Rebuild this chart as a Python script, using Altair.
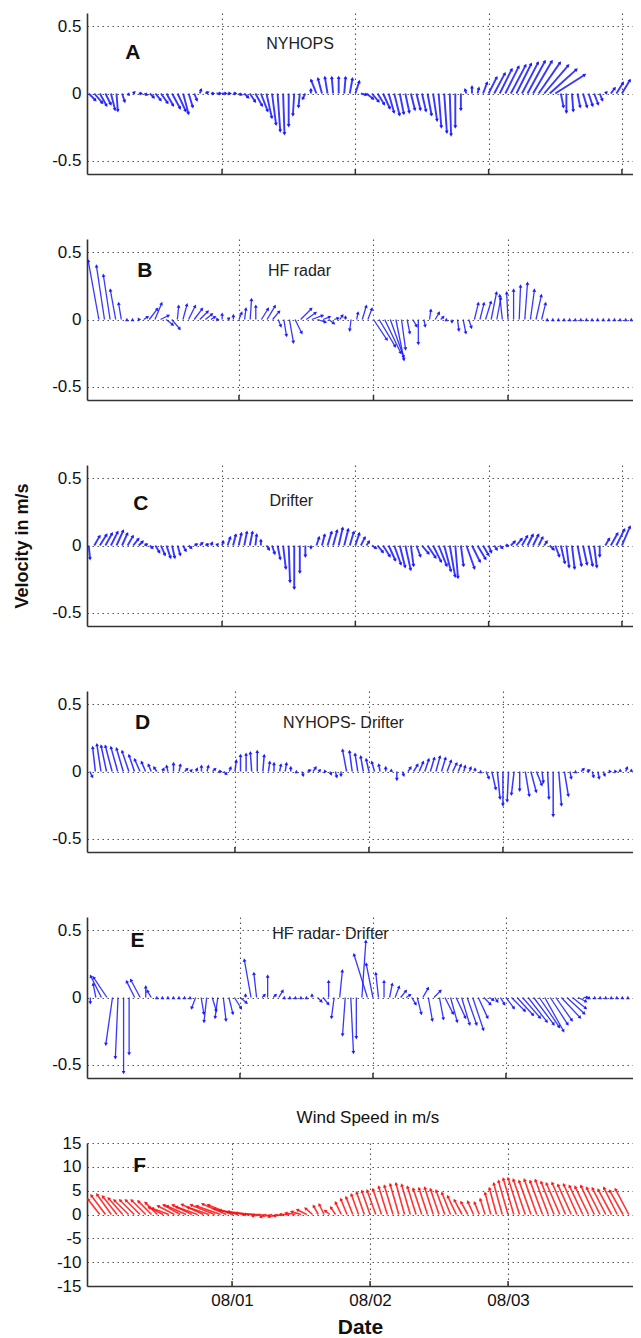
import altair as alt
import pandas as pd
import numpy as np

FONT = "Liberation Sans"
W = 546
H = 161
HF = 143
BLUE = "#1414ff"
RED = "#ff1010"

# ---------------- data: hourly velocity components (u east, v north) ----------------
A_h0 = 0
A_u = [.05, .06, .05, .04, .03, .01, .02, .01, .01, .02,
       .02, .03, .04, .05, .05, .06, .06, .04, .03, .02,
       .01, .02, .02, .03, .03, .02, .02, .02, .03, .04,
       .05, .05, .04, .03, .02, .01, .00, -.01, -.01, -.02,
       .00, -.04, -.03, -.02, -.01, .00, .01, .02, .03, .04,
       .05, .05, .05, .05, .04, .04, .03, .03, .03, .03,
       .03, .03, .03, .02, .02, .01, .00, .00, -.01, .00,
       .01, .03, .06, .08, .09, .10, .11, .11, .12, .13,
       .14, .16, .18, .20, .22, .02, .00, .01, .02, .03,
       .03, .03, .02, .01, .03, .05, .06, .07, .06, .05]
A_v = [-.05, -.07, -.09, -.08, -.12, -.13, -.06, -.01, .01, .00,
       -.01, -.03, -.05, -.07, -.09, -.11, -.13, -.15, -.10, -.05,
       .03, .01, .00, .00, .00, .00, .00, -.01, -.03, -.06,
       -.09, -.13, -.18, -.23, -.28, -.30, -.24, -.16, -.10, -.04,
       .03, .10, .11, .12, .12, .12, .12, .11, .09, -.01,
       -.04, -.06, -.08, -.11, -.14, -.16, -.15, -.14, -.12, -.12,
       -.13, -.16, -.20, -.25, -.29, -.31, -.25, -.12, .03, .05,
       .04, .08, .12, .15, .18, .20, .21, .22, .23, .24,
       .24, .23, .21, .18, .14, -.10, -.14, -.13, -.10, -.10,
       -.09, -.08, -.05, .01, .04, .08, .10, .12, .13, .13]

B_h0 = -3
B_u = [-.01, -.05, -.08, -.06, -.05, -.04, -.02, .00, .00, .01,
       .03, .06, .05, .06, .05, .06, .01, .03, .05, .06,
       .06, .05, .03, .01, .00, .01, .00, .02, .01, .01,
       .00, .05, .06, .05, .02, .02, .03, .05, .08, .07,
       .08, .06, .05, .04, .03, .02, .00, -.01, .01, .03,
       .03, .10, .12, .12, .10, .06, .03, .02, .03, .00,
       .01, .01, .03, .02, .00, .00, .01, .02, .02, .03,
       .03, .04, .04, .03, -.02, -.01, .00, .01, .02, .03,
       .04, .03, .00, .00, .00, .00, .00, .00, .00, .00,
       .00, .00, .00, .00, .00, .00, .00, .00, .00]
B_v = [.35, .47, .44, .40, .33, .22, .12, .00, .00, .00,
       .02, .08, .12, .03, -.04, -.07, .10, .11, .10, .08,
       .06, .04, .02, .00, .04, .01, .03, .05, .08, .15,
       .10, .08, .10, .06, -.05, -.12, -.17, -.10, .08, .05,
       .03, -.02, .02, -.03, .01, .03, .02, -.08, .05, .10,
       .08, -.15, -.20, -.25, -.28, -.30, -.22, -.10, -.05, -.18,
       -.05, .07, .05, .02, .00, -.02, -.08, -.10, -.06, .12,
       .12, .13, .20, .16, .18, .20, .22, .25, .27, .22,
       .18, .12, .00, .00, .00, .00, .00, .00, .00, .00,
       .00, .00, .00, .00, .00, .00, .00, .00, .00]

C_h0 = 0
C_u = [.01, .04, .05, .05, .05, .05, .04, .04, .04, .03,
       .02, .02, .03, .03, .03, .02, .02, .02, .02, .02,
       .02, .02, .01, .01, .01, .02, .02, .02, .02, .02,
       .01, .00, .02, .02, .02, .02, .01, .00, .00, .00,
       .00, .02, .02, .03, .03, .03, .03, .03, .03, .03,
       .02, .03, .04, .05, .05, .05, .04, .04, .02, .03,
       .05, .06, .06, .06, .05, .04, .02, .02, .06, .06,
       .06, .04, .02, .02, .02, .02, .03, .04, .04, .04,
       .04, .03, .02, .03, .03, .03, .02, .02, .03, .03,
       .03, .02, .00, .03, .05, .06, .06, .06, .05, .05]
C_v = [-.10, .07, .08, .09, .10, .11, .09, .07, .05, .03,
       .01, -.02, -.05, -.07, -.09, -.09, -.07, -.04, -.02, .01,
       .02, .01, .02, .01, .03, .06, .08, .09, .10, .10,
       .08, .04, -.03, -.06, -.10, -.17, -.27, -.32, -.20, -.08,
       -.02, .06, .08, .10, .11, .13, .12, .10, .09, .06,
       .03, -.02, -.05, -.08, -.11, -.14, -.16, -.18, -.15, -.08,
       -.06, -.09, -.12, -.15, -.19, -.23, -.24, -.15, -.17, -.12,
       -.10, -.07, -.05, -.03, -.02, .00, .03, .05, .07, .08,
       .08, .06, .03, -.03, -.08, -.13, -.16, -.17, -.15, -.14,
       -.15, -.16, -.08, .05, .09, .12, .14, .15, .16, .16]

D_h0 = -2
D_u = [.02, -.02, -.03, -.04, -.05, -.05, -.05, -.05, -.04, -.04,
       -.03, -.02, -.02, .01, -.01, .00, .01, .02, .01, .01,
       .00, .01, .02, .02, .02, .01, .01, .00, .00, -.01,
       .00, .01, .01, .00, .01, .01, .00, .00, .01, .02,
       .02, .01, .01, .01, .01, .00, -.03, -.02, -.02, -.02,
       -.02, -.02, -.01, .00, .00, .00, .01, .02, .03, .03,
       .03, .03, .03, .03, .03, .03, .02, .01, .01, .00,
       .00, .02, .03, .02, .00, -.01, -.02, .00, .03, .04,
       .04, .01, .01, .00, .02, .03, .01, .00, .02, .02,
       .01, .01, .01, .01, .01, .00, .01, .00, .01]
D_v = [-.04, .18, .20, .19, .19, .18, .17, .15, .12, .09,
       .07, .05, .03, .02, .04, .06, .05, .02, .01, .02,
       .04, .04, .02, .00, -.02, .03, .08, .12, .13, .14,
       .15, .12, .07, .06, .05, .06, .03, .00, -.03, .01,
       .03, .01, .00, -.02, -.04, -.03, .16, .15, .13, .11,
       .09, .07, .05, .03, .01, -.06, -.03, .03, .05, .07,
       .09, .10, .11, .10, .08, .06, .05, .04, .03, .02,
       .00, -.05, -.13, -.20, -.25, -.22, -.17, -.14, -.18, -.15,
       -.10, -.08, -.20, -.33, -.25, -.18, -.05, .00, .02, .01,
       -.04, -.05, -.03, .00, .00, .01, .03, .01, .03]

E_h0 = -3
E_u = [.00, -.02, -.08, -.10, -.05, -.02, .00, .00, -.06, -.07,
       .00, -.03, .00, .00, .00, .00, .00, .00, .00, -.03,
       .02, -.02, .03, -.02, .02, .03, .05, .05, .00, -.05,
       -.02, .02, .00, .02, .03, .00, .00, .00, .00, .00,
       .00, .03, .04, .00, -.02, .02, -.02, .02, .00, .03,
       -.10, -.05, -.02, .00, .02, .03, .04, .03, .03, .03,
       .04, .03, .05, .03, .06, .05, .07, .06, .07, .08,
       .07, .05, .03, .02, .03, .06, .10, .12, .13, .14,
       .15, .15, .14, .13, .12, .14, .13, .10, .06, .03,
       .00, .00, .00, .00, .00, .00, .00, .00, .00, .00]
E_v = [-.04, .10, .16, .15, -.35, -.45, -.56, -.42, .12, .13,
       .08, .05, .00, .00, .00, .00, .00, .00, .00, -.08,
       -.12, -.18, -.10, -.15, -.17, -.12, -.08, -.04, .02, .28,
       .18, .02, .16, .02, .05, .00, .00, .00, .00, .00,
       .02, -.03, -.05, .12, -.15, .20, -.28, -.41, -.30, .42,
       .32, .25, .18, .12, .10, .08, .05, .02, -.05, -.12,
       .07, -.17, .05, -.16, -.12, -.18, -.15, -.20, -.20, -.24,
       -.15, -.05, -.02, -.03, -.05, -.08, -.10, -.13, -.15, -.18,
       -.20, -.22, -.25, -.20, -.17, -.15, -.12, -.08, -.03, .00,
       .00, .00, .00, .00, .00, .00, .00, .00, .00, .00]

F_h0 = 0
F_u = [-2.0, -2.5, -3.0, -3.0, -3.0, -3.0, -3.0, -3.0, -3.0, -3.0,
       -2.8, -2.5, -3.0, -3.5, -3.5, -3.5, -4.0, -4.0, -4.5, -4.5,
       -4.5, -5.0, -5.0, -5.0, -5.0, -5.0, -5.0, -4.5, -4.0, -3.5,
       -3.0, -2.5, -2.0, -2.0, -2.0, -2.0, -2.0, -2.0, -1.5, -1.0,
       -1.0, -1.0, -1.0, -1.2, -1.3, -1.4, -1.5, -1.6, -1.7, -1.8,
       -1.8, -1.8, -1.8, -1.8, -1.8, -1.8, -1.8, -1.8, -1.8, -1.8,
       -1.8, -1.8, -1.8, -1.8, -1.6, -1.4, -1.2, -1.0, -1.0, -1.2,
       -1.5, -1.8, -2.0, -2.2, -2.4, -2.5, -2.5, -2.6, -2.6, -2.7,
       -2.7, -2.8, -2.8, -2.8, -2.8, -2.8, -2.8, -2.8, -2.8, -2.8,
       -2.8, -2.8, -2.8, -2.8, -2.8, -2.8]
F_v = [2.3, 3.2, 4.0, 4.2, 3.8, 3.4, 3.0, 3.0, 3.0, 3.0,
       2.8, 2.5, 1.5, 1.3, 1.8, 2.0, 1.8, 2.0, 1.6, 2.1,
       1.5, 2.0, 1.8, 2.2, 2.0, 1.2, 0.9, 0.6, 0.3, 0.0,
       -0.3, -0.5, -0.5, -0.3, 0.0, 0.3, 0.6, 1.0, 1.3, 1.8,
       2.1, 0.8, 1.5, 2.5, 3.2, 3.6, 4.2, 4.6, 4.9, 5.0,
       5.3, 5.8, 6.0, 6.3, 6.5, 6.2, 5.8, 5.4, 5.5, 5.6,
       5.3, 5.0, 4.5, 3.8, 3.0, 2.6, 2.7, 2.5, 3.2, 4.5,
       5.5, 6.5, 7.0, 7.5, 7.6, 7.3, 7.0, 7.3, 7.0, 7.2,
       6.8, 6.5, 6.6, 6.2, 6.3, 6.0, 5.8, 6.0, 5.6, 5.5,
       5.2, 5.6, 5.0, 5.3, 5.5, 5.2]

DAY_TICKS = [1, 2, 3, 4]


def frame(h0, u, v, scale, xdom):
    n = min(len(u), len(v))
    df = pd.DataFrame({"t": [(h0 + i) / 24.0 for i in range(n)],
                       "u": u[:n], "v": v[:n]})
    df["tx"] = df["t"] + df["u"] * scale
    df["y0"] = 0.0
    df["ang"] = (np.degrees(np.arctan2(df["u"], df["v"])) + 360.0) % 360.0
    lo, hi = xdom
    keep = (df[["t", "tx"]].min(axis=1) >= lo) & (df[["t", "tx"]].max(axis=1) <= hi - 0.005)
    return df[keep]


def panel(h0, u, v, x0, ppd, ydom, height, color, sw, letter, lpos, name, npos,
          yvals, ytitle_color, last=False, top_text=None):
    xdom = [x0, x0 + W / ppd]
    ticks_in = [d for d in DAY_TICKS if xdom[0] < d < xdom[1]]
    # days per (m/s) so that arrows keep their true direction on screen
    s = (height / (ydom[1] - ydom[0])) / ppd
    df = frame(h0, u, v, s, xdom)
    if last:
        xaxis = alt.Axis(values=ticks_in, grid=True, gridDash=[1.5, 3.5],
                         gridColor="#555", gridWidth=1.1, ticks=False, tickSize=0,
                         labelExpr="'08/0' + datum.value", labelFont=FONT,
                         labelFontSize=17, labelPadding=6, labelColor="#111",
                         domainColor="#333", domainWidth=1.6,
                         title="Date", titleFont=FONT, titleFontSize=21,
                         titleFontWeight="bold", titlePadding=8, titleColor="#111")
    else:
        xaxis = alt.Axis(values=ticks_in, grid=True, gridDash=[1.5, 3.5],
                         gridColor="#555", gridWidth=1.1, ticks=False, tickSize=0,
                         labels=False, domainColor="#333", domainWidth=1.6, title=None)
    yaxis = alt.Axis(values=yvals, grid=True, gridDash=[1.5, 3.5], gridColor="#555",
                     gridWidth=1.1, ticks=False, tickSize=0,
                     labelExpr="(datum.value < 0 ? '-' : '') + format(abs(datum.value), '~g')",
                     labelFont=FONT, labelFontSize=17, labelPadding=6, labelColor="#111",
                     domainColor="#333", domainWidth=1.6, minExtent=44, maxExtent=44,
                     title="Velocity in m/s", titleFont=FONT, titleFontSize=18,
                     titleFontWeight="bold", titlePadding=12, titleColor=ytitle_color)
    xs = alt.Scale(domain=xdom, nice=False, zero=False)
    ys = alt.Scale(domain=ydom, nice=False, zero=False)
    X = alt.X("t:Q", scale=xs, axis=xaxis)
    Y = alt.Y("v:Q", scale=ys, axis=yaxis)

    base = alt.Chart(df)
    sticks = base.mark_rule(color=color, strokeWidth=sw, opacity=0.85, clip=True).encode(
        x=X, x2="tx:Q", y=alt.Y("y0:Q", scale=ys, axis=yaxis), y2="v:Q")
    heads = base.mark_point(shape="triangle-up", filled=True, size=15, color=color,
                            opacity=0.9, clip=True).encode(
        x=alt.X("tx:Q", scale=xs, axis=xaxis), y=Y,
        angle=alt.Angle("ang:Q", scale=None))
    ticks = alt.Chart(pd.DataFrame({"t": ticks_in})).mark_rule(
        color="#333", strokeWidth=1.5, clip=True).encode(
        x=X, y=alt.value(height), y2=alt.value(height - 5))
    lab = alt.Chart(pd.DataFrame({"t": [lpos[0]], "v": [lpos[1]], "s": [letter]})).mark_text(
        font=FONT, fontSize=21, fontWeight="bold", color="#111",
        align="center", baseline="middle").encode(x=X, y=Y, text="s:N")
    layers = [sticks, heads, ticks, lab]
    if name:
        nm = alt.Chart(pd.DataFrame({"t": [npos[0]], "v": [npos[1]], "s": [name]})).mark_text(
            font=FONT, fontSize=16, color="#222", align="center",
            baseline="middle").encode(x=X, y=Y, text="s:N")
        layers.append(nm)
    if top_text:
        tt = alt.Chart(pd.DataFrame({"t": [top_text[1]], "s": [top_text[0]]})).mark_text(
            font=FONT, fontSize=17, color="#111", align="center",
            baseline="middle").encode(x=X, y=alt.value(-25), text="s:N")
        layers.append(tt)
    return alt.layer(*layers).properties(width=W, height=height)


VY = [-0.5, 0, 0.5]
WY = [-15, -10, -5, 0, 5, 10, 15]
TR = "transparent"

pA = panel(A_h0, A_u, A_v, -0.013, 133.3, [-0.6, 0.6], H, BLUE, 1.9, "A", (0.33, 0.30),
           "NYHOPS", (1.585, 0.37), VY, TR)
pB = panel(B_h0, B_u, B_v, -0.130, 134.5, [-0.6, 0.6], H, BLUE, 1.3, "B", (0.30, 0.36),
           "HF radar", (1.45, 0.36), VY, TR)
pC = panel(C_h0, C_u, C_v, -0.013, 133.3, [-0.6, 0.6], H, BLUE, 1.9, "C", (0.39, 0.31),
           "Drifter", (1.52, 0.33), VY, "#111")
pD = panel(D_h0, D_u, D_v, -0.104, 134.0, [-0.6, 0.6], H, BLUE, 1.5, "D", (0.31, 0.36),
           "NYHOPS- Drifter", (1.81, 0.36), VY, TR)
pE = panel(E_h0, E_u, E_v, -0.150, 133.0, [-0.6, 0.6], H, BLUE, 1.3, "E", (0.23, 0.42),
           "HF radar- Drifter", (1.68, 0.47), VY, TR)
pF = panel(F_h0, F_u, F_v, -0.051, 138.0, [-15, 15], HF, RED, 1.6, "F", (0.33, 10.1),
           None, None, WY, TR, last=True, top_text=("Wind Speed in m/s", 1.985))

chart = alt.vconcat(pA, pB, pC, pD, pE, pF, spacing=65, bounds="flush").properties(
    padding={"left": 5, "top": 5, "right": 0, "bottom": 0},
    background="white",
).configure_view(stroke=None)

chart.save("out.html", embed_options={"renderer": "svg", "actions": False})
